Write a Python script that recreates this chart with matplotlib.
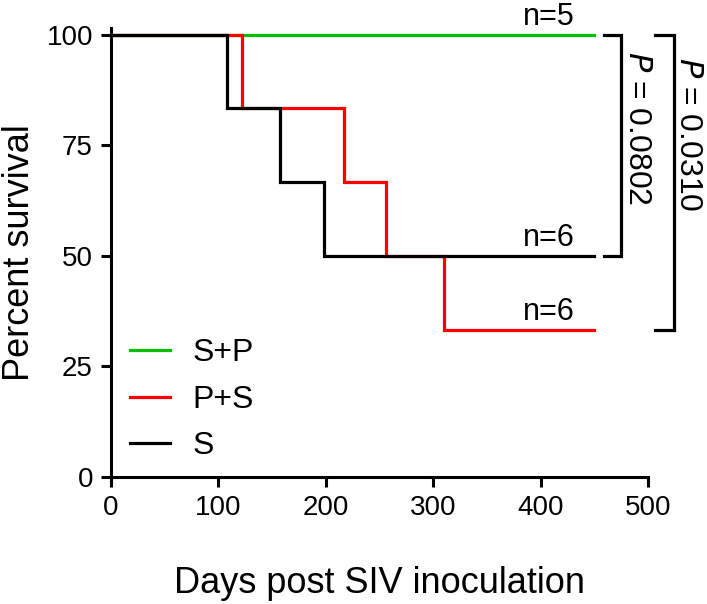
import matplotlib
matplotlib.use("Agg")
import matplotlib.pyplot as plt

plt.rcParams['font.family'] = ['Liberation Sans', 'DejaVu Sans']

# ---- data (Kaplan-Meier steps) ----
sp_days = [0, 450]
sp_surv = [100, 100]

ps_days = [0, 122, 217, 256, 310, 450]
ps_surv = [100, 83.33, 66.67, 50.0, 33.33, 33.33]

s_days = [0, 108, 157, 198, 450]
s_surv = [100, 83.33, 66.67, 50.0, 50.0]

labels = ["S+P", "P+S", "S"]
colors = ["#00c000", "#ff0000", "#000000"]
n_labels = ["n=5", "n=6", "n=6"]

p_values = ["0.0802", "0.0310"]
# bracket pairs: (top y, bottom y)
bracket_pairs = [(100, 50.0), (100, 33.33)]

xticks = [0, 100, 200, 300, 400, 500]
yticks = [0, 25, 50, 75, 100]

fig = plt.figure(figsize=(7.07, 6.04), dpi=100)
ax = fig.add_axes([0.157, 0.2103, 0.7595, 0.7433])

lw = 2.3
series = [(sp_days, sp_surv), (ps_days, ps_surv), (s_days, s_surv)]
order = [1, 0, 2]
handles = {}
for i in order:
    d, s = series[i]
    h, = ax.step(d, s, where='post', color=colors[i], lw=lw,
                 solid_joinstyle='miter', clip_on=False, zorder=3 + i, label=labels[i])
    handles[i] = h

ax.set_xlim(0, 500)
ax.set_ylim(0, 101.5)
ax.set_xticks(xticks)
ax.set_yticks(yticks)
ax.tick_params(axis='both', which='major', length=7.5, width=2.2, labelsize=20, pad=5.5, direction='out')
for sp in ['top', 'right']:
    ax.spines[sp].set_visible(False)
for sp in ['left', 'bottom']:
    ax.spines[sp].set_linewidth(2.2)

ax.set_xlabel("Days post SIV inoculation", fontsize=26)
ax.set_ylabel("Percent survival", fontsize=26)
ax.xaxis.set_label_coords(0.5, -0.199)
ax.yaxis.set_label_coords(-0.138, 0.5)

# n labels
n_y = [sp_surv[-1], ps_surv[-1], s_surv[-1]]
for i in range(3):
    ax.text(408, n_y[i] + 2.2, n_labels[i], ha='center', va='baseline', fontsize=22)

# brackets and p-values
bx = [(459, 475), (507, 524)]
ptx = [490, 537]
pty = [79, 77.5]
for k in range(2):
    x0, x1 = bx[k]
    ytop, ybot = bracket_pairs[k]
    ax.plot([x0, x1, x1, x0], [ytop, ytop, ybot, ybot], color='black', lw=lw,
            clip_on=False, solid_joinstyle='miter')
    ax.text(ptx[k], pty[k], r"$\it{P}$" + " = " + p_values[k], rotation=-90,
            ha='center', va='center', fontsize=23, clip_on=False)

leg = ax.legend([handles[0], handles[1], handles[2]], labels, loc='lower left',
                bbox_to_anchor=(0.0, -0.008), frameon=False, fontsize=23,
                handlelength=1.25, handletextpad=0.7, labelspacing=0.52,
                borderaxespad=0.2)
for line in leg.get_lines():
    line.set_linewidth(2.3)

fig.savefig("out.png", dpi=100)
